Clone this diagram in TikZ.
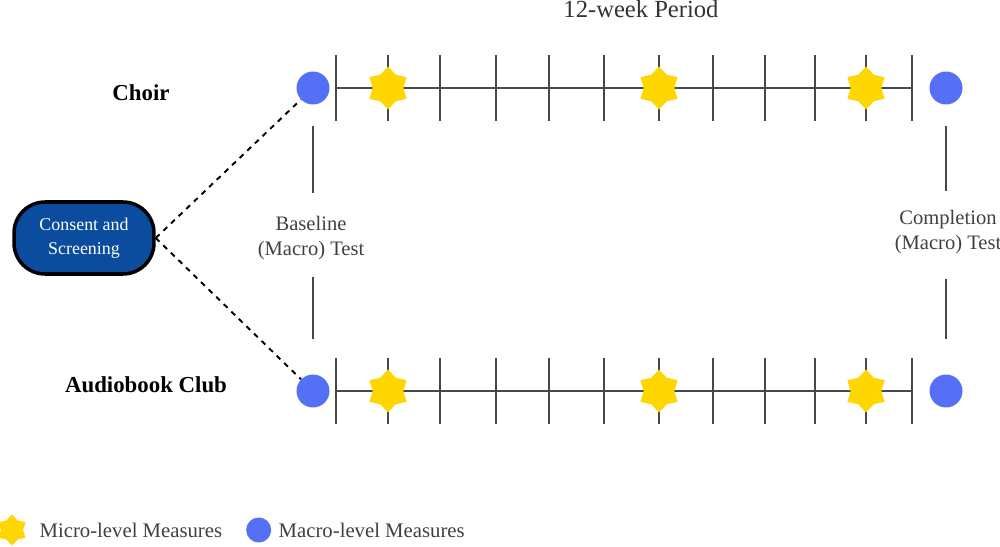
\documentclass[tikz,border=0pt]{standalone}
\usepackage{fontspec}
\setmainfont{Liberation Serif}
\usetikzlibrary{positioning,shapes.geometric,calc}
\definecolor{azulcons}{HTML}{0B4C9E}
\definecolor{azulmacro}{HTML}{5570F5}
\definecolor{oromicro}{HTML}{FFD600}
\definecolor{grislinea}{HTML}{484848}
\tikzset{
  consent/.style={rectangle, rounded corners=0.62cm, draw=black, line width=2pt,
    fill=azulcons, text=white, align=center, minimum width=2.8cm, minimum height=1.44cm,
    font=\fontsize{10.2}{13.5}\selectfont},
  macro/.style={circle, fill=azulmacro, minimum size=0.66cm, inner sep=0pt},
  micro/.style={star, star points=6, star point ratio=1.4, fill=oromicro,
    minimum size=0.86cm, inner sep=0pt},
  grupo/.style={font=\bfseries\fontsize{13}{15}\selectfont},
  prueba/.style={align=center, text=black!75, font=\fontsize{11.7}{14.5}\selectfont},
  leyenda/.style={text=black!75, font=\fontsize{11.8}{13}\selectfont},
  eje/.style={grislinea, line width=1.1pt},
  marca/.style={grislinea, line width=1.5pt},
  enlace/.style={dashed, line width=1.1pt},
}
\begin{document}
\begin{tikzpicture}[x=0.02cm, y=-0.02cm]
    \useasboundingbox (0,0) rectangle (1000,547);
    % Screening and period
    \node[consent] (cons) at (84,238) {Consent and\\Screening};
    \node[anchor=base, text=black!80, font=\fontsize{14}{16}\selectfont] (periodo) at (641,18) {12-week Period};
    \node[grupo] (choir) at (141,93) {Choir};
    \node[grupo] (audio) at (146,385) {Audiobook Club};
    % Timelines
    \foreach \y/\nm in {88/c, 391/a}{
      \draw[eje] (336,\y) -- (912,\y);
      \foreach \t in {336,388,440,496,549,604,659,713,765,815,866,912}
        \draw[marca] (\t,\y-33) -- (\t,\y+33);
      \foreach \s in {388,659,866}
        \node[micro] (\nm s\s) at (\s,\y) {};
      \node[macro] (\nm0) at (313,\y) {};
      \node[macro] (\nm1) at (946,\y) {};
    }
    \draw[enlace] (cons.east) -- (c0);
    \draw[enlace] (cons.east) -- (a0);
    % Macro tests
    \node[prueba] (base) at (311,238) {Baseline\\(Macro) Test};
    \node[prueba] (comp) at (948,232) {Completion\\(Macro) Test};
    \draw[marca] ($(c0.south)+(0,21)$) -- ($(c0.south)+(0,88)$);
    \draw[marca] ($(a0.north)+(0,-97)$) -- ($(a0.north)+(0,-35)$);
    \draw[marca] ($(c1.south)+(0,21)$) -- ($(c1.south)+(0,86)$);
    \draw[marca] ($(a1.north)+(0,-95)$) -- ($(a1.north)+(0,-35)$);
    % Legend
    \node[micro, minimum size=0.62cm] (leyS) at (12,530) {};
    \node[leyenda, right=0.2cm of leyS] (leyStxt) {Micro-level Measures};
    \node[macro, minimum size=0.5cm, right=0.35cm of leyStxt] (leyC) {};
    \node[leyenda, right=0.02cm of leyC] (leyCtxt) {Macro-level Measures};
\end{tikzpicture}
\end{document}
